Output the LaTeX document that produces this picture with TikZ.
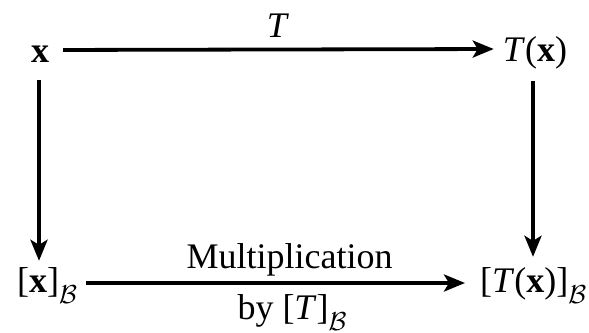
\RequirePackage{fix-cm}
\documentclass[tikz,border=0pt]{standalone}
\usepackage{fontspec}
\setmainfont{Liberation Serif}
\usetikzlibrary{arrows.meta}

% calligraphic subscript set lower and a bit larger than usual
\newcommand{\subB}{\raisebox{-11pt}{\fontsize{26}{26}\selectfont$\mathcal{B}$}}

\tikzset{
  lbl/.style={inner sep=0pt, font=\fontsize{36}{40}\selectfont},
  arr/.style={line width=3.8pt,
    -{Stealth[length=21pt,width=17pt,inset=5pt]}}
}

\begin{document}
\begin{tikzpicture}[x=1pt,y=-1pt]
  \useasboundingbox (0,0) rectangle (589,332);

  % the four corners of the square
  \node[lbl, anchor=base] (x) at (40,62) {\textbf{x}};
  \node[lbl, anchor=base] (Tx) at (535,61) {\textit{T}(\textbf{x})};
  \node[lbl, anchor=base west] (xB) at (17,292) {[\textbf{x}]\subB};
  \node[lbl, anchor=base west] (TxB) at (480,292) {[\textit{T}(\textbf{x})]\subB};

  % top map
  \draw[arr, shorten <=14pt, shorten >=9pt]
    ([yshift=12pt]x.base east) -- ([yshift=12pt]Tx.base west);
  \node[lbl, anchor=base] (T) at (278,37) {\textit{T}};

  % coordinate maps
  \draw[arr, shorten <=18pt, shorten >=6pt]
    ([xshift=-1pt]x.south) -- ([xshift=-1pt]x.south |- xB.north);
  \draw[arr, shorten <=12pt, shorten >=10pt]
    ([xshift=-2pt]Tx.south) -- ([xshift=-2pt]Tx.south |- TxB.north);

  % bottom map
  \draw[arr, shorten <=9pt, shorten >=15pt]
    ([yshift=9pt]xB.base east) -- ([yshift=9pt]TxB.base west);
  \node[lbl, anchor=base] (mul) at (289.5,268) {Multiplication};
  \node[lbl, anchor=base] (by) at (292,319) {by [\textit{T}]\subB};
\end{tikzpicture}
\end{document}
